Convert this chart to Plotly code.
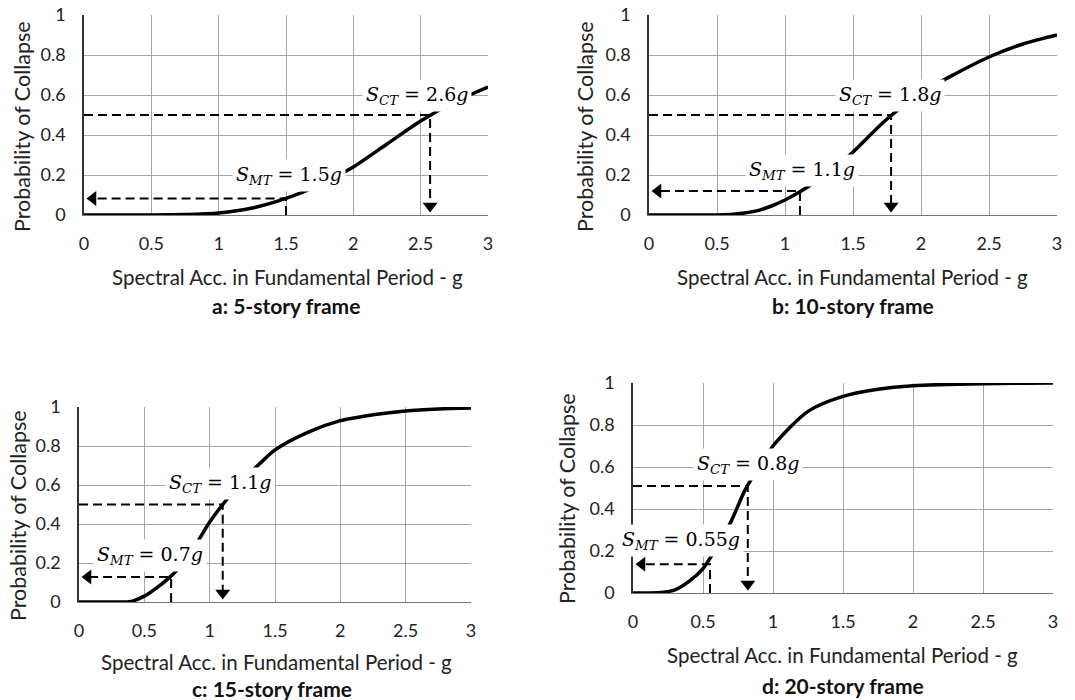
import plotly.graph_objects as go

W, H = 1075, 700

# ---------------- data ----------------
x_a = [0, 0.25, 0.5, 0.75, 1.0, 1.25, 1.5, 1.75, 2.0, 2.25, 2.5, 2.75, 3.0]
p_a = [0, 0, 0, 0.002, 0.01, 0.035, 0.083, 0.15, 0.24, 0.355, 0.47, 0.565, 0.64]

x_b = [0, 0.25, 0.5, 0.6, 0.7, 0.8, 0.9, 1.0, 1.1, 1.2, 1.3, 1.4, 1.5, 1.75, 2.0, 2.25, 2.5, 2.75, 3.0]
p_b = [0, 0, 0, 0.003, 0.01, 0.022, 0.045, 0.075, 0.112, 0.155, 0.2, 0.255, 0.315, 0.48, 0.61, 0.705, 0.79, 0.855, 0.9]

x_c = [0, 0.25, 0.4, 0.5, 0.6, 0.7, 0.8, 0.9, 1.0, 1.1, 1.2, 1.3, 1.4, 1.5, 1.75, 2.0, 2.25, 2.5, 2.75, 3.0]
p_c = [0, 0, 0.003, 0.03, 0.075, 0.13, 0.2, 0.3, 0.41, 0.5, 0.58, 0.655, 0.72, 0.78, 0.87, 0.93, 0.96, 0.98, 0.99, 0.995]

x_d = [0, 0.2, 0.3, 0.4, 0.5, 0.6, 0.7, 0.8, 0.9, 1.0, 1.25, 1.5, 1.75, 2.0, 2.5, 3.0]
p_d = [0, 0.002, 0.015, 0.055, 0.116, 0.22, 0.34, 0.49, 0.6, 0.70, 0.865, 0.936, 0.97, 0.987, 0.997, 1.0]

smt = [1.5, 1.11, 0.705, 0.55]          # S_MT positions
p_smt = [0.083, 0.12, 0.128, 0.137]     # probability at S_MT
sct = [2.57, 1.78, 1.1, 0.82]           # S_CT positions
p_sct = [0.5, 0.5, 0.5, 0.51]           # probability at S_CT
smt_labels = ["1.5", "1.1", "0.7", "0.55"]
sct_labels = ["2.6", "1.8", "1.1", "0.8"]
panel_titles = ["a: 5-story frame", "b: 10-story frame", "c: 15-story frame", "d: 20-story frame"]
x_title = "Spectral Acc. in Fundamental Period - g"
y_title = "Probability of Collapse"
x_ticks = [0, 0.5, 1, 1.5, 2, 2.5, 3]
y_ticks = [0, 0.2, 0.4, 0.6, 0.8, 1]

curves_x = [x_a, x_b, x_c, x_d]
curves_p = [p_a, p_b, p_c, p_d]

# ---------------- layout geometry (pixels) ----------------
boxes = [(84, 488, 15, 215), (649, 1057, 15, 215), (79, 471, 407, 602), (633, 1053, 383, 593)]
xtitle_pos = [(287, 277), (852, 277), (276, 662), (842, 655)]
sub_pos = [(286, 305), (853, 305), (272, 688), (843, 685)]
ytitle_pos = [(22, 127), (585, 127), (18, 516), (567, 499)]
ct_pos = [(2.47, 0.6), (1.77, 0.6), (1.08, 0.607), (0.825, 0.61)]
mt_pos = [(1.52, 0.2), (1.125, 0.225), (0.544, 0.24), (0.342, 0.25)]

TICK_FONT = dict(family="Lato", size=18, color="#222")
XTITLE_FONT = dict(family="Lato", size=20.5, color="#222")
YTITLE_FONT = dict(family="Lato", size=21.5, color="#222")
SUB_FONT = dict(family="Lato", size=21, color="#111")
MATH_FONT = dict(family="DejaVu Serif", size=19, color="black")
GRID = "#a6a6a6"
DASH = "9px,5px"

fig = go.Figure()
layout = dict(width=W, height=H, margin=dict(l=0, r=0, t=0, b=0, pad=0), autosize=False,
              paper_bgcolor="white", plot_bgcolor="white", showlegend=False)
annotations = []

for i in range(4):
    n = "" if i == 0 else str(i + 1)
    xa, ya = "x" + n, "y" + n
    x0, x1, y0, y1 = boxes[i]
    pw, ph = x1 - x0, y1 - y0
    dx = 9 * 3 / pw      # arrow marker offset in data units
    dy = 9 * 1 / ph

    top_grid = i >= 2
    layout["xaxis" + n] = dict(domain=[x0 / W, x1 / W], anchor=ya, range=[0, 3],
                               tickvals=x_ticks, ticks="", ticklabelstandoff=12,
                               showgrid=True, gridcolor=GRID, gridwidth=1,
                               showline=True, linecolor="#777", linewidth=1,
                               zeroline=False, tickfont=TICK_FONT, fixedrange=True,
                               automargin=False)
    yax = dict(domain=[1 - y1 / H, 1 - y0 / H], anchor=xa, range=[0, 1],
               tickvals=y_ticks, ticks="", ticklabelstandoff=13,
               showline=True, linecolor="#333", linewidth=1.5,
               zeroline=False, tickfont=TICK_FONT, fixedrange=True, automargin=False)
    if top_grid:
        yax.update(showgrid=True, gridcolor=GRID, gridwidth=1)
    else:
        yax.update(showgrid=False,
                   minor=dict(tickvals=[0.2, 0.4, 0.6, 0.8], showgrid=True,
                              gridcolor=GRID, gridwidth=1, ticks=""))
    layout["yaxis" + n] = yax

    # S_CT dashed guide: horizontal then vertical with down arrow
    fig.add_trace(go.Scatter(x=[0, sct[i], sct[i]], y=[p_sct[i], p_sct[i], dy],
                             mode="lines", line=dict(color="black", width=2, dash=DASH),
                             xaxis=xa, yaxis=ya, hoverinfo="skip"))
    fig.add_trace(go.Scatter(x=[sct[i]], y=[dy], mode="markers",
                             marker=dict(symbol="triangle-down", size=13, color="black"),
                             xaxis=xa, yaxis=ya, hoverinfo="skip", cliponaxis=False))
    # S_MT dashed guide: vertical stub then horizontal with left arrow
    fig.add_trace(go.Scatter(x=[smt[i], smt[i], dx], y=[0, p_smt[i], p_smt[i]],
                             mode="lines", line=dict(color="black", width=2, dash=DASH),
                             xaxis=xa, yaxis=ya, hoverinfo="skip"))
    fig.add_trace(go.Scatter(x=[dx], y=[p_smt[i]], mode="markers",
                             marker=dict(symbol="triangle-left", size=13, color="black"),
                             xaxis=xa, yaxis=ya, hoverinfo="skip", cliponaxis=False))
    # fragility curve
    fig.add_trace(go.Scatter(x=curves_x[i], y=curves_p[i], mode="lines",
                             line=dict(color="black", width=3.5, shape="spline", smoothing=0.8),
                             xaxis=xa, yaxis=ya, hoverinfo="skip"))

    # math labels
    annotations.append(dict(x=ct_pos[i][0], y=ct_pos[i][1], xref=xa, yref=ya,
                            text="<i>S</i><sub><i>CT</i></sub> = " + sct_labels[i] + "<i>g</i>",
                            showarrow=False, font=MATH_FONT, bgcolor="white", borderpad=3,
                            xanchor="center", yanchor="middle"))
    annotations.append(dict(x=mt_pos[i][0], y=mt_pos[i][1], xref=xa, yref=ya,
                            text="<i>S</i><sub><i>MT</i></sub> = " + smt_labels[i] + "<i>g</i>",
                            showarrow=False, font=MATH_FONT, bgcolor="white", borderpad=3,
                            xanchor="center", yanchor="middle"))
    # titles
    annotations.append(dict(x=xtitle_pos[i][0] / W, y=1 - xtitle_pos[i][1] / H, xref="paper", yref="paper",
                            text=x_title, showarrow=False, font=XTITLE_FONT,
                            xanchor="center", yanchor="middle"))
    annotations.append(dict(x=sub_pos[i][0] / W, y=1 - sub_pos[i][1] / H, xref="paper", yref="paper",
                            text="<b>" + panel_titles[i] + "</b>", showarrow=False, font=SUB_FONT,
                            xanchor="center", yanchor="middle"))
    annotations.append(dict(x=ytitle_pos[i][0] / W, y=1 - ytitle_pos[i][1] / H, xref="paper", yref="paper",
                            text=y_title, showarrow=False, font=YTITLE_FONT, textangle=-90,
                            xanchor="center", yanchor="middle"))

layout["annotations"] = annotations
fig.update_layout(**layout)
fig.write_html("out.html", config={"displayModeBar": False},
               post_script="document.body.style.margin='0';document.body.style.overflow='hidden';")
